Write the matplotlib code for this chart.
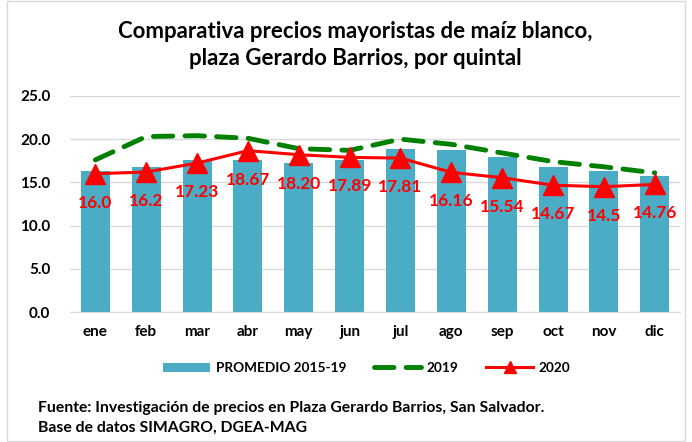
import matplotlib
matplotlib.use("Agg")
import matplotlib.pyplot as plt
from matplotlib.patches import Rectangle

plt.rcParams['font.family'] = ['Lato', 'DejaVu Sans']
plt.rcParams['font.weight'] = 'bold'

meses = ["ene", "feb", "mar", "abr", "may", "jun", "jul", "ago", "sep", "oct", "nov", "dic"]
promedio = [16.3, 16.8, 17.6, 17.6, 17.2, 17.6, 18.9, 18.75, 17.9, 16.8, 16.3, 15.7]
precios_2019 = [17.6, 20.3, 20.4, 20.1, 18.9, 18.7, 20.0, 19.4, 18.4, 17.4, 16.8, 16.1]
precios_2020 = [16.0, 16.2, 17.23, 18.67, 18.20, 17.89, 17.81, 16.16, 15.54, 14.67, 14.5, 14.76]
etiquetas_2020 = ["16.0", "16.2", "17.23", "18.67", "18.20", "17.89", "17.81", "16.16", "15.54", "14.67", "14.5", "14.76"]

fig = plt.figure(figsize=(6.92, 4.42), dpi=100)
ax = fig.add_axes([0.101, 0.294, 0.882, 0.489])

x = range(len(meses))
barras = ax.bar(x, promedio, width=0.57, color="#4BACC6", label="PROMEDIO 2015-19", zorder=2)
l2019, = ax.plot(x, precios_2019, color="#008000", lw=3.5, dashes=(4, 2.5), dash_capstyle="round",
                 label="2019", zorder=3)
l2020, = ax.plot(x, precios_2020, color="#FF0000", lw=2.2, marker="^", ms=14, label="2020", zorder=4)

for i, v in enumerate(precios_2020):
    ax.annotate(etiquetas_2020[i], (i, v), xytext=(0, -29), textcoords="offset pixels",
                ha="center", va="center", color="#FF0000", fontsize=12.5, fontweight="bold", zorder=5)

ax.set_xlim(-0.5, 11.5)
ax.set_ylim(0, 25)
ax.set_yticks([0, 5, 10, 15, 20, 25])
ax.set_yticklabels(["0.0", "5.0", "10.0", "15.0", "20.0", "25.0"])
ax.set_xticks(list(x))
ax.set_xticklabels(meses)
ax.tick_params(axis="both", length=0, labelsize=11)
ax.tick_params(axis="y", pad=14)
ax.tick_params(axis="x", pad=9)
ax.grid(axis="y", color="#D9D9D9", lw=1, zorder=0)
for s in ["top", "right", "left"]:
    ax.spines[s].set_visible(False)
ax.spines["bottom"].set_color("#D9D9D9")

fig.text(0.513, 0.898, "Comparativa precios mayoristas de maíz blanco,\nplaza Gerardo Barrios, por quintal",
         ha="center", va="center", fontsize=16, fontweight="bold", linespacing=1.35)

leg = fig.legend([barras, l2019, l2020], ["PROMEDIO 2015-19", "2019", "2020"],
                 loc="center", bbox_to_anchor=(0.53, 0.167), ncol=3, frameon=False, fontsize=9.8,
                 handlelength=3.5, columnspacing=2.0, handletextpad=0.4)
leg.legend_handles[2].set_markersize(9)

fig.text(0.055, 0.077, "Fuente: Investigación de precios en Plaza Gerardo Barrios, San Salvador.",
         fontsize=11.3, fontweight="bold", va="center")
fig.text(0.055, 0.032, "Base de datos SIMAGRO, DGEA-MAG", fontsize=11.3, fontweight="bold", va="center")

fig.patches.append(Rectangle((0.01, 0.002), 0.98, 0.995, transform=fig.transFigure,
                             fill=False, edgecolor="#D9D9D9", lw=1))

fig.savefig("out.png", dpi=100)
